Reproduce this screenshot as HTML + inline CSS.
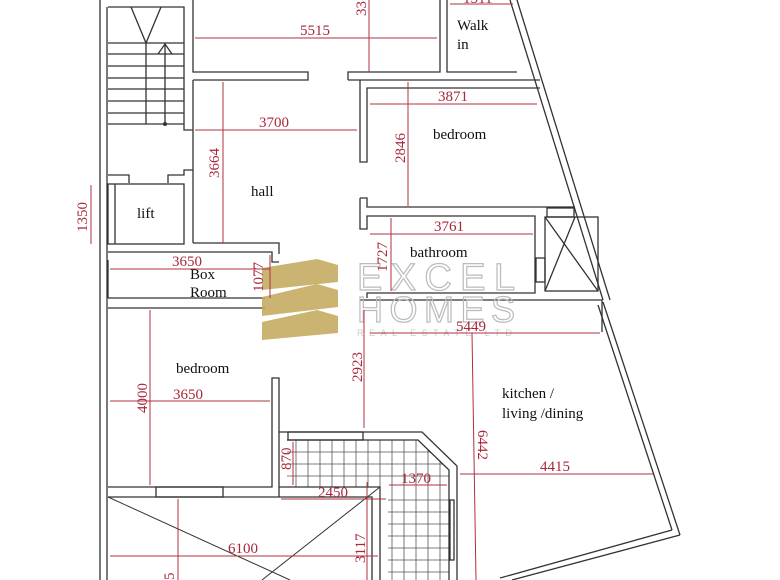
<!DOCTYPE html>
<html><head><meta charset="utf-8"><style>
html,body{margin:0;padding:0;background:#fff;width:780px;height:580px;overflow:hidden}
svg{display:block}
.w{fill:none;stroke:#333;stroke-width:1.3}
.d{stroke:#b0303f;stroke-width:1;fill:none}
.t{font-family:"Liberation Serif",serif;font-size:15px;fill:#111}
.n{font-family:"Liberation Serif",serif;font-size:15px;fill:#a8283a}
</style></head><body>
<svg width="780" height="580" viewBox="0 0 780 580">
<defs><clipPath id="tc"><polygon points="287,440 418,440 449,470 449,580 388,580 388,487 287,487"/></clipPath></defs>
<line class="w" x1="100" y1="0" x2="100" y2="580"/>
<line class="w" x1="107" y1="7" x2="107" y2="580"/>
<polyline class="w" points="108,7 184,7 184,130 193,130"/>
<g class="w">
<line x1="108" y1="43" x2="184" y2="43"/><line x1="108" y1="54" x2="184" y2="54"/>
<line x1="108" y1="66" x2="184" y2="66"/><line x1="108" y1="78" x2="184" y2="78"/>
<line x1="108" y1="89" x2="184" y2="89"/><line x1="108" y1="101" x2="184" y2="101"/>
<line x1="108" y1="113" x2="184" y2="113"/><line x1="108" y1="124" x2="184" y2="124"/>
<line x1="146" y1="43" x2="146" y2="124"/>
<polyline points="131,7 146,43 161,7"/>
<line x1="165" y1="44" x2="165" y2="124"/>
<polyline points="158,54 165,44 172,54"/>
</g>
<circle cx="165" cy="124" r="2" fill="#333"/>
<polyline class="w" points="108,175 129,175 129,183"/>
<polyline class="w" points="168,183 168,175 184,175 184,170 193,170"/>
<rect class="w" x="108" y="184" width="76" height="60"/>
<line class="w" x1="115" y1="184" x2="115" y2="244"/>
<text class="t" x="137" y="218">lift</text>
<polyline class="w" points="193,80 308,80 308,72 193,72 193,0"/>
<line class="w" x1="193" y1="80" x2="193" y2="243"/>
<polyline class="w" points="193,243 279,243 279,254"/>
<polyline class="w" points="348,80 348,72 440,72 440,0"/>
<polyline class="w" points="447,0 447,72 517,72"/>
<text class="t" x="457" y="30">Walk</text><text class="t" x="457" y="49">in</text>
<text class="t" x="251" y="196">hall</text>
<polyline class="w" points="348,80 360,80 360,162 367,162 367,88 540,88"/>
<line class="w" x1="360" y1="80" x2="540" y2="80"/>
<text class="t" x="433" y="139">bedroom</text>
<polyline class="w" points="360,198 367,198 367,207 575,207"/>
<polyline class="w" points="360,198 360,229 367,229 367,216 535,216 535,293 367,293 367,298"/>
<text class="t" x="410" y="257">bathroom</text>
<rect class="w" x="545" y="217" width="53" height="74"/>
<line class="w" x1="545" y1="217" x2="598" y2="291"/><line class="w" x1="545" y1="291" x2="575" y2="217"/>
<rect class="w" x="547" y="208" width="27" height="9"/>
<rect class="w" x="536" y="258" width="9" height="24"/>
<line class="w" x1="517" y1="0" x2="610" y2="300"/>
<line class="w" x1="510" y1="0" x2="603" y2="300"/>
<line class="w" x1="603" y1="302" x2="680" y2="535"/>
<line class="w" x1="598" y1="305" x2="672" y2="530"/>
<line class="w" x1="680" y1="535" x2="512" y2="580"/>
<line class="w" x1="672" y1="530" x2="500" y2="578"/>
<polyline class="w" points="108,252 272,252 272,262 279,262"/>
<polyline class="w" points="108,298 265,298"/>
<line class="w" x1="108" y1="260" x2="108" y2="298"/>
<text class="t" x="190" y="279">Box</text><text class="t" x="190" y="297">Room</text>
<polyline class="w" points="360,300 602,300 602,332"/>
<text class="t" x="502" y="398">kitchen /</text>
<text class="t" x="502" y="418">living /dining</text>
<polyline class="w" points="108,308 265,308"/>
<polyline class="w" points="108,487 272,487 272,378 279,378 279,497"/>
<line class="w" x1="108" y1="497" x2="279" y2="497"/>
<rect class="w" x="156" y="487" width="67" height="10"/>
<text class="t" x="176" y="373">bedroom</text>
<g stroke="#555" stroke-width=".8" clip-path="url(#tc)">
<line x1="283" y1="452" x2="450" y2="452"/><line x1="283" y1="464" x2="450" y2="464"/><line x1="283" y1="476" x2="450" y2="476"/>
<line x1="388" y1="500" x2="450" y2="500"/><line x1="388" y1="512" x2="450" y2="512"/><line x1="388" y1="524" x2="450" y2="524"/><line x1="388" y1="536" x2="450" y2="536"/><line x1="388" y1="548" x2="450" y2="548"/><line x1="388" y1="560" x2="450" y2="560"/><line x1="388" y1="572" x2="450" y2="572"/>
<line x1="296" y1="440" x2="296" y2="487"/><line x1="308" y1="440" x2="308" y2="487"/><line x1="320" y1="440" x2="320" y2="487"/><line x1="332" y1="440" x2="332" y2="487"/><line x1="344" y1="440" x2="344" y2="487"/><line x1="356" y1="440" x2="356" y2="487"/><line x1="368" y1="440" x2="368" y2="487"/><line x1="380" y1="440" x2="380" y2="487"/>
<line x1="392" y1="440" x2="392" y2="580"/><line x1="404" y1="440" x2="404" y2="580"/><line x1="416" y1="440" x2="416" y2="580"/><line x1="428" y1="440" x2="428" y2="580"/><line x1="440" y1="440" x2="440" y2="580"/>
</g>
<polyline class="w" points="279,432 422,432 457,466 457,580"/>
<polyline class="w" points="287,440 418,440 449,470 449,580"/>
<rect class="w" x="288" y="432" width="75" height="8"/>
<rect class="w" x="450" y="500" width="4" height="60"/>
<polyline class="w" points="279,487 380,487 380,580"/>
<polyline class="w" points="279,497 372,497 372,580"/>
<line x1="108" y1="497" x2="290" y2="580" stroke="#333"/>
<line x1="380" y1="487" x2="262" y2="580" stroke="#333"/>
<g fill="#c2a85a" opacity=".85">
<polygon points="262,268 317,259 338,265 338,282 262,290"/>
<polygon points="262,297 317,284 338,290 338,307 262,316"/>
<polygon points="262,322 317,310 338,316 338,333 262,340"/>
</g>
<text x="357" y="290" font-family="Liberation Sans,sans-serif" font-size="38" fill="none" stroke="#bbb" stroke-width="1.2" textLength="158">EXCEL</text>
<text x="357" y="322" font-family="Liberation Sans,sans-serif" font-size="36" fill="none" stroke="#bbb" stroke-width="1.2" textLength="158">HOMES</text>
<text x="357" y="336" font-family="Liberation Sans,sans-serif" font-size="9" fill="#ccc" textLength="158" letter-spacing="3">REAL ESTATE LTD</text>
<g class="d">
<line x1="195" y1="38" x2="437" y2="38"/>
<line x1="369" y1="0" x2="369" y2="72"/>
<line x1="450" y1="4" x2="513" y2="4"/>
<line x1="195" y1="130" x2="357" y2="130"/>
<line x1="223" y1="82" x2="223" y2="243"/>
<line x1="370" y1="104" x2="537" y2="104"/>
<line x1="408" y1="82" x2="408" y2="206"/>
<line x1="91" y1="185" x2="91" y2="244"/>
<line x1="370" y1="234" x2="533" y2="234"/>
<line x1="391" y1="218" x2="391" y2="291"/>
<line x1="110" y1="269" x2="270" y2="269"/>
<line x1="270" y1="255" x2="270" y2="298"/>
<line x1="370" y1="333" x2="600" y2="333"/>
<line x1="364" y1="310" x2="364" y2="428"/>
<line x1="150" y1="310" x2="150" y2="485"/>
<line x1="110" y1="401" x2="270" y2="401"/>
<line x1="293" y1="442" x2="293" y2="485"/>
<line x1="281" y1="499" x2="386" y2="499"/>
<line x1="389" y1="485" x2="447" y2="485"/>
<line x1="472" y1="333" x2="476" y2="580"/>
<line x1="460" y1="474" x2="653" y2="474"/>
<line x1="110" y1="556" x2="378" y2="556"/>
<line x1="367" y1="482" x2="367" y2="580"/>
<line x1="178" y1="499" x2="178" y2="580"/>
</g>
<text class="n" x="300" y="35">5515</text>
<text class="n" x="463" y="3">1511</text>
<text class="n" x="259" y="127">3700</text>
<text class="n" x="438" y="101">3871</text>
<text class="n" x="434" y="231">3761</text>
<text class="n" x="172" y="266">3650</text>
<text class="n" x="456" y="331">5449</text>
<text class="n" x="173" y="399">3650</text>
<text class="n" x="318" y="497">2450</text>
<text class="n" x="401" y="483">1370</text>
<text class="n" x="540" y="471">4415</text>
<text class="n" x="228" y="553">6100</text>
<g class="n">
<text transform="translate(366,16) rotate(-90)" class="n">33</text>
<text transform="translate(219,178) rotate(-90)" class="n">3664</text>
<text transform="translate(405,163) rotate(-90)" class="n">2846</text>
<text transform="translate(87,232) rotate(-90)" class="n">1350</text>
<text transform="translate(387,272) rotate(-90)" class="n">1727</text>
<text transform="translate(263,292) rotate(-90)" class="n">1077</text>
<text transform="translate(362,382) rotate(-90)" class="n">2923</text>
<text transform="translate(147,413) rotate(-90)" class="n">4000</text>
<text transform="translate(291,470) rotate(-90)" class="n">870</text>
<text transform="translate(365,563) rotate(-90)" class="n">3117</text>
<text transform="translate(478,430) rotate(90)" class="n">6442</text>
<text transform="translate(174,580) rotate(-90)" class="n">5</text>
</g>
</svg>
</body></html>
